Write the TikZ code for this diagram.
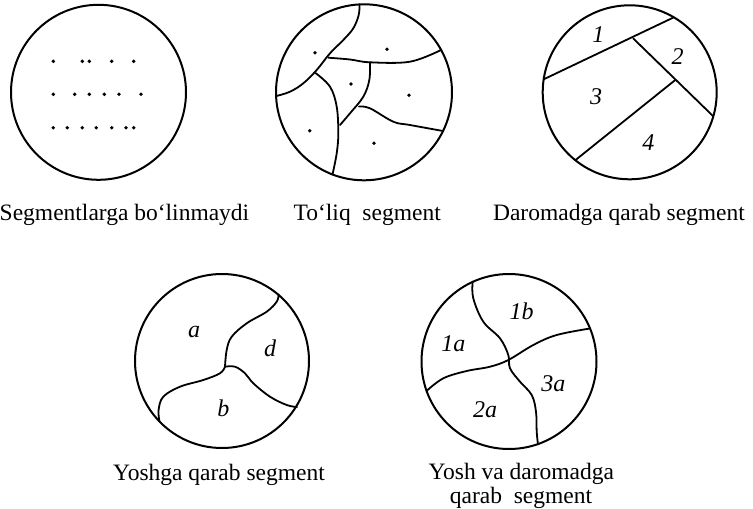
\documentclass[tikz,border=0pt]{standalone}
\usepackage{fontspec}
\setmainfont{Liberation Serif}
\begin{document}
\begin{tikzpicture}[x=1pt,y=-1pt,
  ring/.style={line width=2pt},
  seg/.style={line width=1.8pt, line join=round, line cap=round},
  captxt/.style={font=\fontsize{23.5}{26}\selectfont, inner sep=0pt, anchor=base},
  lab/.style={font=\fontsize{24}{26}\selectfont\itshape, inner sep=0pt},
  dot/.style={fill=black, draw=none}]
\useasboundingbox (0,0) rectangle (753,509);

% ---------- circle 1 ----------
\coordinate (c1) at (98.5,92.3);
\draw[ring] (c1) circle[radius=87.5];
\foreach \x in {53.3,82.3,89.3,111.7,133.7} \fill[dot] (\x,61.3) circle[radius=1.9];
\foreach \x in {53.3,74.7,89.3,104.3,119,141} \fill[dot] (\x,94.3) circle[radius=1.9];
\foreach \x in {53.3,67.3,82.3,96.3,111.7,126,133.7} \fill[dot] (\x,127.7) circle[radius=1.9];
\node[captxt] (t1) at (124.5,220) {Segmentlarga bo‘linmaydi};

% ---------- circle 2 ----------
\coordinate (c2) at (364,92.3);
\draw[ring] (c2) circle[radius=88];
\draw[seg] plot[smooth, tension=0.6] coordinates {(359.5,4.5) (358.7,15) (353.3,28.3) (343.3,40) (330,53.3) (316.7,70) (303.3,83.3) (290,91.7) (276.3,96)};
\draw[seg] plot[smooth, tension=0.6] coordinates {(328.3,57.7) (350,59.5) (370,62.3) (410,61.7) (441,50)};
\draw[seg] plot[smooth, tension=0.6] coordinates {(370,62.3) (369.3,80) (363.3,96.7) (350,113.3) (340,125)};
\draw[seg] plot[smooth, tension=0.6] coordinates {(315.5,73) (330,86.7) (336.7,106.7) (338.3,133.3) (336.7,153.3) (332.5,174.5)};
\draw[seg] plot[smooth, tension=0.6] coordinates {(359,106.5) (370,108.3) (393.3,121.7) (410,125) (443,131)};
\foreach \p in {(315,52.7),(387,49.3),(351,84),(409,95.3),(309.7,130.7),(374,143.3)} \fill[dot] \p circle[radius=1.9];
\node[captxt] (t2) at (367.2,220) {To‘liq\ \ segment};

% ---------- circle 3 ----------
\coordinate (c3) at (629.7,92.3);
\draw[ring] (c3) circle[radius=87];
\coordinate (p1) at (543.7,79.3);
\coordinate (p2) at (673.9,17.3);
\coordinate (p3) at (633.3,38.5);
\coordinate (p4) at (713.3,116.3);
\coordinate (p5) at (675,80.2);
\coordinate (p6) at (575.3,160.2);
\draw[seg] (p1) -- (p2);
\draw[seg] (p3) -- (p4);
\draw[seg] (p5) -- (p6);
\node[lab] (n1) at (598.3,35) {1};
\node[lab] (n2) at (677.7,56.7) {2};
\node[lab] (n3) at (596,96.7) {3};
\node[lab] (n4) at (648.3,142.7) {4};
\node[captxt] (t3) at (619,220) {Daromadga qarab segment};

% ---------- circle 4 ----------
\coordinate (c4) at (222,361);
\draw[ring] (c4) circle[radius=87];
\draw[seg] plot[smooth, tension=0.6] coordinates {(278.6,294.5) (276.7,301.7) (266.7,311.7) (246.7,323.3) (231.7,336.7) (226.7,350) (225,366.7)};
\draw[seg] plot[smooth, tension=0.6] coordinates {(225,366.7) (235,366.7) (245,373.3) (253.3,383.3) (270,396.7) (286.7,405) (297,407)};
\draw[seg] plot[smooth, tension=0.6] coordinates {(225,366.7) (220,373.3) (203.3,380) (180,386.7) (163.3,396.7) (158.6,410) (159.5,421.5)};
\node[lab] (na) at (194,331.7) {a};
\node[lab] (nd) at (270,348.3) {d};
\node[lab] (nb) at (223.3,408.3) {b};
\node[captxt] (t4) at (219,480) {Yoshga qarab segment};

% ---------- circle 5 ----------
\coordinate (c5) at (509,361.5);
\draw[ring] (c5) circle[radius=87.5];
\draw[seg] plot[smooth, tension=0.6] coordinates {(472.7,281.5) (473.3,298.3) (483.3,321.7) (500,338.3) (508.3,355) (510,368.3) (520,381.7) (531.7,395) (536,411.7) (536.7,431.7) (538,444.5)};
\draw[seg] plot[smooth, tension=0.6] coordinates {(426.5,391) (443.3,378.3) (466.7,371) (490,366.7) (508.3,360) (533.3,345) (556.7,335) (590,328.5)};
\node[lab] (n1b) at (521.7,311.7) {1b};
\node[lab] (n1a) at (453.3,343.3) {1a};
\node[lab] (n3a) at (553.3,383.3) {3a};
\node[lab] (n2a) at (485,410) {2a};
\node[captxt] (t5a) at (521.3,479) {Yosh va daromadga};
\node[captxt] (t5b) at (521,503.3) {qarab\ \ segment};
\end{tikzpicture}
\end{document}
